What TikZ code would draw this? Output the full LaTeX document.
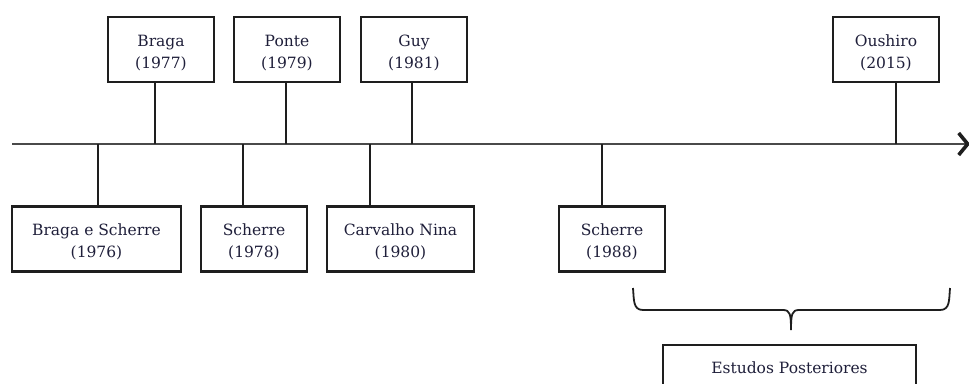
\documentclass[tikz,border=0pt]{standalone}
\usepackage{fontspec}
\setmainfont{DejaVu Serif}
\usetikzlibrary{arrows.meta}
\definecolor{linec}{HTML}{1E1E1E}
\definecolor{axisc}{HTML}{4A4A4A}
\definecolor{txtc}{HTML}{1F1F3A}
\newcommand\mytopstrut{\rule{0pt}{18pt}}
\begin{document}
\begin{tikzpicture}[x=1pt,y=-1pt,
  box/.style={draw=linec,line width=2.2pt,fill=white,minimum height=65pt,inner sep=0pt,
    align=center,text=txtc,font=\fontsize{15.5}{22}\selectfont},
  stem/.style={draw=linec,line width=2.2pt},
  axis/.style={draw=axisc,line width=2.4pt}]
\useasboundingbox (0,0) rectangle (969,383);
\clip (0,0) rectangle (969,383);
% axis
\coordinate (a0) at (12,144);
\coordinate (a1) at (970,144);
\draw[axis,-{Straight Barb[length=9pt,width=22pt,line width=3.6pt,color=linec]}] (a0) -- (a1);
% top boxes
\node[box,minimum width=106pt] (braga) at (161,49.5) {\mytopstrut Braga\\(1977)};
\node[box,minimum width=106pt] (ponte) at (287,49.5) {\mytopstrut Ponte\\(1979)};
\node[box,minimum width=106pt] (guy) at (414,49.5) {\mytopstrut Guy\\(1981)};
\node[box,minimum width=106pt] (oushiro) at (886,49.5) {\mytopstrut Oushiro\\(2015)};
% bottom boxes
\node[box,minimum width=169pt] (bs) at (96.5,239) {\mytopstrut Braga e Scherre\\(1976)};
\node[box,minimum width=106pt] (s78) at (254,239) {\mytopstrut Scherre\\(1978)};
\node[box,minimum width=147pt] (cn) at (400.5,239) {\mytopstrut Carvalho Nina\\(1980)};
\node[box,minimum width=106pt] (s88) at (612,239) {\mytopstrut Scherre\\(1988)};
% stems
\coordinate (t1) at (155,144);
\coordinate (t2) at (286,144);
\coordinate (t3) at (412,144);
\coordinate (t4) at (896,144);
\coordinate (b1) at (98,144);
\coordinate (b2) at (243,144);
\coordinate (b3) at (370,144);
\coordinate (b4) at (602,144);
\draw[stem] (t1) -- (t1 |- braga.south);
\draw[stem] (t2) -- (t2 |- ponte.south);
\draw[stem] (t3) -- (t3 |- guy.south);
\draw[stem] (t4) -- (t4 |- oushiro.south);
\draw[stem] (b1) -- (b1 |- bs.north);
\draw[stem] (b2) -- (b2 |- s78.north);
\draw[stem] (b3) -- (b3 |- cn.north);
\draw[stem] (b4) -- (b4 |- s88.north);
% brace
\coordinate (bl) at (633,288);
\coordinate (br) at (950,288);
\coordinate (btip) at (791,330);
\draw[stem,line width=1.8pt] (bl) .. controls (634,300) and (633,310) .. (643,310)
  -- (783,310) .. controls (790,310) and (791,314) .. (btip)
  (btip) .. controls (791,314) and (792,310) .. (799,310)
  -- (940,310) .. controls (950,310) and (949,300) .. (br);
% estudos
\node[box,minimum width=253pt,minimum height=70pt,anchor=north,text height=12pt,text depth=26pt] (est) at (789.5,344) {Estudos Posteriores};
\end{tikzpicture}
\end{document}
